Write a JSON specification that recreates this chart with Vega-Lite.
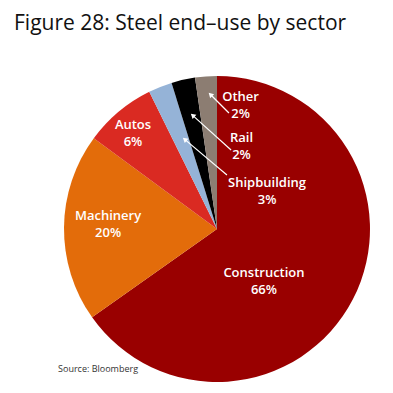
{
  "$schema": "https://vega.github.io/schema/vega-lite/v6.json",
  "autosize": {"type": "none"},
  "width": 306,
  "height": 306,
  "padding": {"left": 64, "top": 76, "right": 23, "bottom": 11},
  "background": "white",
  "title": {
    "text": "Figure 28: Steel end–use by sector",
    "anchor": "start",
    "frame": "group",
    "dx": -50,
    "offset": 25,
    "baseline": "alphabetic",
    "font": "Open Sans",
    "fontSize": 21,
    "fontWeight": "normal",
    "color": "#111111"
  },
  "config": {"view": {"stroke": null}},
  "datasets": {
    "slices": [
      {"sector": "Construction", "value": 65.2, "ord": 1},
      {"sector": "Machinery", "value": 19.9, "ord": 2},
      {"sector": "Autos", "value": 7.6, "ord": 3},
      {"sector": "Shipbuilding", "value": 2.5, "ord": 4},
      {"sector": "Rail", "value": 2.5, "ord": 5},
      {"sector": "Other", "value": 2.3, "ord": 6}
    ],
    "labels": [
      {"label": "Construction\n66%", "x": 0.307, "y": -0.314},
      {"label": "Machinery\n20%", "x": -0.712, "y": 0.059},
      {"label": "Autos\n6%", "x": -0.549, "y": 0.654},
      {"label": "Other\n2%", "x": 0.154, "y": 0.837},
      {"label": "Rail\n2%", "x": 0.16, "y": 0.569},
      {"label": "Shipbuilding\n3%", "x": 0.327, "y": 0.275}
    ],
    "arrows": [
      {"sector": "Other", "x": 0.078, "y": 0.758, "hx": -0.043, "hy": 0.879, "ang": 315},
      {"sector": "Rail", "x": 0.092, "y": 0.516, "hx": -0.159, "hy": 0.743, "ang": 312},
      {"sector": "Shipbuilding", "x": 0.065, "y": 0.353, "hx": -0.211, "hy": 0.586, "ang": 310}
    ],
    "source": [
      {"text": "Source: Bloomberg", "x": -1.039, "y": -0.935}
    ]
  },
  "layer": [
    {
      "data": {"name": "slices"},
      "mark": {"type": "arc", "outerRadius": 153, "stroke": null},
      "encoding": {
        "theta": {"field": "value", "type": "quantitative", "stack": true},
        "order": {"field": "ord", "type": "quantitative"},
        "color": {
          "field": "sector",
          "type": "nominal",
          "legend": null,
          "scale": {
            "domain": ["Construction", "Machinery", "Autos", "Shipbuilding", "Rail", "Other"],
            "range": ["#990000", "#E36C0A", "#DA2A22", "#95B3D7", "#000000", "#8C7D72"]
          }
        }
      }
    },
    {
      "data": {"name": "arrows"},
      "mark": {"type": "rule", "color": "white", "strokeWidth": 1.2},
      "encoding": {
        "x": {"field": "x", "type": "quantitative", "scale": {"domain": [-1, 1], "nice": false, "zero": false}, "axis": null},
        "y": {"field": "y", "type": "quantitative", "scale": {"domain": [-1, 1], "nice": false, "zero": false}, "axis": null},
        "x2": {"field": "hx"},
        "y2": {"field": "hy"}
      }
    },
    {
      "data": {"name": "arrows"},
      "mark": {"type": "point", "shape": "triangle-up", "filled": true, "color": "white", "size": 32, "opacity": 1},
      "encoding": {
        "x": {"field": "hx", "type": "quantitative"},
        "y": {"field": "hy", "type": "quantitative"},
        "angle": {"field": "ang", "type": "quantitative", "scale": {"domain": [0, 360], "range": [0, 360]}}
      }
    },
    {
      "data": {"name": "labels"},
      "mark": {"type": "text", "font": "Open Sans", "fontSize": 13, "fontWeight": 600, "color": "white", "align": "center", "baseline": "alphabetic", "lineBreak": "\n", "lineHeight": 17},
      "encoding": {
        "x": {"field": "x", "type": "quantitative"},
        "y": {"field": "y", "type": "quantitative"},
        "text": {"field": "label", "type": "nominal"}
      }
    },
    {
      "data": {"name": "source"},
      "mark": {"type": "text", "font": "Open Sans", "fontSize": 9, "color": "#333333", "align": "left", "baseline": "alphabetic"},
      "encoding": {
        "x": {"field": "x", "type": "quantitative"},
        "y": {"field": "y", "type": "quantitative"},
        "text": {"field": "text", "type": "nominal"}
      }
    }
  ]
}
